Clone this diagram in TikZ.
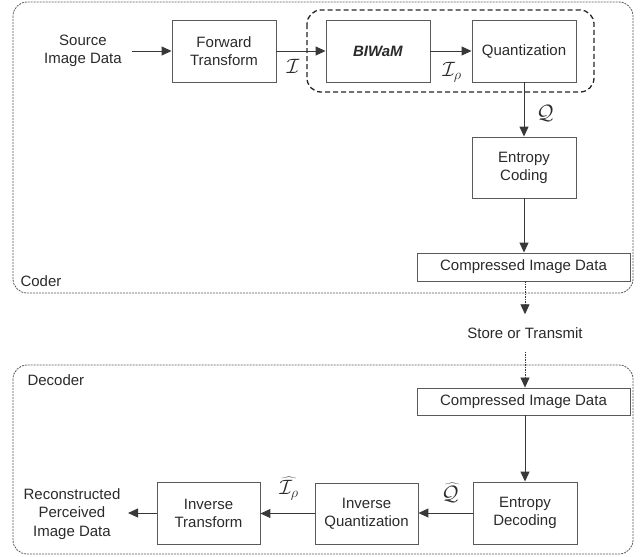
\documentclass[tikz,border=0pt]{standalone}
\usepackage{fontspec}
\setmainfont{Liberation Sans}
\usetikzlibrary{arrows.meta}
\definecolor{linegray}{HTML}{383838}
\definecolor{boxgray}{HTML}{5A5A5A}
\definecolor{txt}{HTML}{2A2A2A}
\tikzset{
  blk/.style={draw=boxgray, line width=0.9pt, rectangle, minimum width=104pt, minimum height=62pt, inner sep=0pt, align=center, text=txt, font=\fontsize{15}{18}\selectfont},
  wide/.style={draw=boxgray, line width=0.9pt, rectangle, minimum width=213pt, minimum height=28pt, inner sep=0pt, text=txt, font=\fontsize{15}{18}\selectfont},
  plain/.style={align=center, text=txt, font=\fontsize{15}{18.5}\selectfont},
  arr/.style={draw=linegray, line width=1pt, -{Triangle[length=10pt,width=9pt]}},
  dotarr/.style={draw=linegray, line width=0.8pt, dash pattern=on 1.5pt off 1pt, -{Triangle[length=10pt,width=9pt]}},
  group/.style={draw=boxgray, line width=0.8pt, dash pattern=on 2pt off 1pt, rounded corners=14pt},
  inner/.style={draw=black!85, line width=1.3pt, dash pattern=on 5pt off 3pt, rounded corners=14pt},
  mlab/.style={font=\fontsize{21}{24}\selectfont, text=txt, inner sep=0pt}
}
\begin{document}
\begin{tikzpicture}[x=1pt,y=-1pt]
\useasboundingbox (0,0) rectangle (643,557);
% group frames
\draw[group] (13,2) rectangle (633,293);
\draw[group] (13,365) rectangle (633,554);
\draw[inner] (307,10) rectangle (594,92);
\node[plain, anchor=west] (coderlab) at (17,281) {Coder};
\node[plain, anchor=west] (decoderlab) at (24,380) {Decoder};
% coder
\node[plain, inner xsep=10pt] (src) at (83,51) {Source\\Image Data};
\node[blk] (ft) at (224,51) {Forward\\Transform};
\node[blk] (bw) at (378,51) {\textbf{\textit{BIWaM}}};
\node[blk] (qz) at (524,51) {Quantization};
\node[blk, minimum height=61pt] (ec) at (524,167.5) {Entropy\\Coding};
\node[wide] (cc) at (523.5,267) {Compressed Image Data};
\node[plain, inner ysep=13pt] (st) at (525,333) {Store or Transmit};
% decoder
\node[wide, minimum height=27pt] (dc) at (523.5,401.5) {Compressed Image Data};
\node[blk] (ed) at (525,513) {Entropy\\Decoding};
\node[blk, minimum width=103pt, minimum height=61pt] (iq) at (366.5,513.5) {Inverse\\Quantization};
\node[blk, minimum width=103pt] (it) at (208.5,513) {Inverse\\Transform};
\node[plain, inner xsep=7.5pt] (rec) at (72,514) {Reconstructed\\Perceived\\Image Data};
% connectors
\draw[arr] (src.east |- ft.west) -- (ft.west);
\draw[arr] (ft) -- (bw);
\draw[arr] (bw) -- (qz);
\draw[arr] (qz) -- (ec);
\draw[arr] (ec) -- (cc.north -| ec.south);
\draw[dotarr] (cc.south -| st.north) -- (st.north);
\draw[dotarr] (st.south) -- (dc.north -| st.south);
\draw[arr] (dc.south -| ed.north) -- (ed.north);
\draw[arr] (ed) -- (ed.west -| iq.east);
\draw[arr] (iq) -- (iq.west -| it.east);
\draw[arr] (it.west) -- (it.west -| rec.east);
% labels
\node[mlab] (lI) at (293,66) {$\mathcal{I}$};
\node[mlab] (lIr) at (452,72) {$\mathcal{I}_\rho$};
\node[mlab] (lQ) at (545,113) {$\mathcal{Q}$};
\node[mlab] (lQh) at (450,493) {$\widehat{\mathcal{Q}}$};
\node[mlab] (lIh) at (289,489) {$\widehat{\mathcal{I}_\rho}$};
\end{tikzpicture}
\end{document}
